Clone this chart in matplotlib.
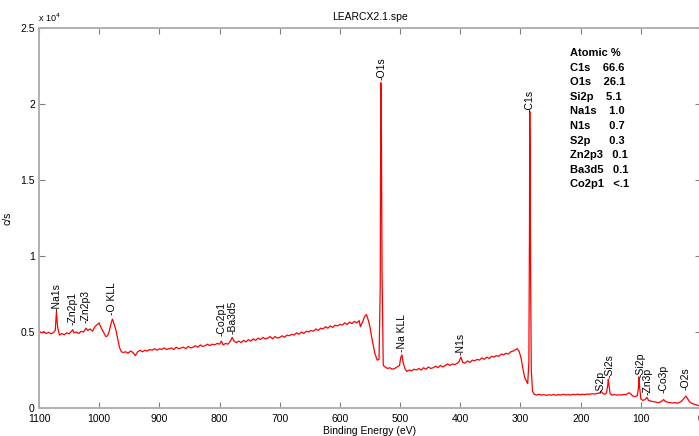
import matplotlib
matplotlib.use("Agg")
import matplotlib.pyplot as plt

plt.rcParams['font.family'] = ['Liberation Sans', 'DejaVu Sans']

# Spectrum (binding energy in eV, counts per second)
energy = [1100, 1096, 1092, 1088, 1084, 1080, 1076, 1073, 1071, 1069, 1066, 1062, 1058, 1054, 1050,
          1046, 1044, 1042, 1038, 1034, 1030, 1026, 1022, 1019, 1015, 1011, 1007, 1003, 1000, 997,
          993, 989, 986, 983, 980, 978, 975, 972, 969, 966, 963, 960, 956, 952, 948, 944, 940, 936,
          932, 928, 924, 920, 916, 912, 908, 904, 900, 896, 892, 888, 884, 880, 876, 872, 868, 864,
          860, 856, 852, 848, 844, 840, 836, 832, 828, 824, 820, 816, 812, 808, 804, 800, 797, 794,
          790, 786, 782, 779, 776, 772, 768, 764, 760, 756, 752, 748, 744, 740, 736, 732, 728, 724,
          720, 716, 712, 708, 704, 700, 696, 692, 688, 684, 680, 676, 672, 668, 664, 660, 656, 652,
          648, 644, 640, 636, 632, 628, 624, 620, 616, 612, 608, 604, 600, 596, 592, 588, 584, 580,
          576, 572, 568, 566, 562, 559, 556, 553, 550, 546, 542, 538, 535, 533, 532, 531, 530, 528,
          525, 521, 517, 513, 509, 505, 501, 499, 497, 495, 492, 489, 485, 481, 477, 473, 469, 465,
          461, 457, 453, 449, 445, 441, 437, 433, 429, 425, 421, 417, 413, 409, 405, 402, 399, 396,
          392, 388, 384, 380, 376, 372, 368, 364, 360, 356, 352, 348, 344, 340, 336, 332, 328, 324,
          320, 316, 312, 308, 305, 302, 299, 296, 293, 290, 288, 286, 285, 284.5, 284, 283, 282, 280,
          277, 273, 269, 265, 261, 257, 253, 249, 245, 241, 237, 233, 229, 225, 221, 217, 213, 209,
          205, 201, 197, 193, 189, 185, 181, 177, 173, 169, 166, 163, 160, 157, 155, 154, 153, 151,
          148, 144, 140, 136, 132, 128, 124, 120, 117, 114, 110, 106, 104, 103, 102, 100, 97, 93,
          90, 87, 83, 79, 75, 71, 67, 64, 62, 59, 55, 51, 47, 43, 39, 35, 31, 28, 25, 22, 19, 15,
          11, 7, 3, 0]
counts = [5050, 4950, 5020, 4900, 4980, 4880, 4960, 5100, 6350, 5300, 4800, 4900, 4820, 4950, 4880,
          5050, 5150, 4950, 5000, 4900, 5050, 5000, 5250, 5100, 5200, 5050, 5350, 5500, 5600, 5300,
          5000, 4700, 4750, 5100, 5600, 5850, 5500, 5100, 4500, 3950, 3700, 3650, 3700, 3600, 3750,
          3650, 3450, 3700, 3800, 3700, 3800, 3750, 3850, 3800, 3900, 3800, 3900, 3850, 3950, 3850,
          3900, 3950, 3850, 4000, 3900, 3950, 4000, 3900, 4050, 3950, 4000, 4100, 4000, 4150, 4050,
          4100, 4200, 4100, 4200, 4150, 4250, 4200, 4400, 4150, 4250, 4200, 4400, 4650, 4400, 4300,
          4400, 4300, 4450, 4350, 4500, 4400, 4550, 4450, 4600, 4500, 4650, 4550, 4600, 4700, 4550,
          4700, 4600, 4650, 4750, 4650, 4800, 4750, 4850, 4800, 4950, 4850, 5000, 4900, 5050, 5000,
          5100, 5050, 5200, 5100, 5250, 5200, 5350, 5250, 5400, 5300, 5450, 5400, 5500, 5450, 5600,
          5500, 5650, 5550, 5700, 5600, 5750, 5350, 5700, 6000, 6150, 5800, 5300, 4400, 3600, 3150,
          3200, 8000, 21400, 18000, 9000, 2800, 2700, 2600, 2650, 2550, 2600, 2700, 2800, 3300, 3500,
          3000, 2600, 2400, 2500, 2450, 2550, 2500, 2600, 2500, 2650, 2550, 2700, 2600, 2650, 2750,
          2650, 2800, 2700, 2800, 2900, 2800, 2900, 2850, 2950, 3050, 3350, 3000, 2950, 3100, 3000,
          3150, 3100, 3200, 3150, 3300, 3200, 3350, 3250, 3400, 3350, 3450, 3400, 3550, 3500, 3600,
          3550, 3700, 3750, 3850, 3900, 3700, 3300, 2600, 2000, 1750, 1600, 3000, 12000, 19500, 17000,
          8000, 2500, 1100, 900, 850, 900, 850, 880, 830, 870, 850, 890, 840, 880, 850, 900, 860,
          890, 850, 900, 870, 910, 870, 900, 880, 920, 900, 940, 920, 960, 980, 1100, 950, 900,
          1000, 1500, 1900, 1500, 950, 850, 880, 850, 870, 850, 900, 880, 1000, 950, 800, 750, 800,
          1300, 2050, 1400, 600, 500, 550, 700, 500, 450, 420, 380, 350, 400, 500, 550, 420, 380,
          350, 330, 350, 320, 380, 500, 650, 780, 600, 400, 300, 250, 200, 150, 100]

# Peak labels: text, energy position, label base (counts)
peak_names = ['-Na1s', '-Zn2p1', '-Zn2p3', '-O KLL', '-Co2p1', '-Ba3d5', '-O1s', '-Na KLL',
              '-N1s', '-C1s', '-S2p', '-Si2s', '-Si2p', '-Zn3p', '-Co3p', '-O2s']
peak_pos = [1071, 1045, 1022, 978, 797, 779, 531.5, 497, 399, 284.5, 167, 152, 101, 89, 63, 25]
peak_base = [6400, 5450, 5600, 6100, 4730, 4870, 21550, 3700, 3500, 19500, 1000, 1970, 2060,
             850, 1000, 1200]

# Atomic % table
comp_names = ['C1s', 'O1s', 'Si2p', 'Na1s', 'N1s', 'S2p', 'Zn2p3', 'Ba3d5', 'Co2p1']
comp_values = ['66.6', '26.1', '5.1', '1.0', '0.7', '0.3', '0.1', '0.1', '<.1']
comp_gaps = ['    ', '    ', '    ', '    ', '      ', '      ', '   ', '   ', '   ']

xticks = [1100, 1000, 900, 800, 700, 600, 500, 400, 300, 200, 100, 0]
yticks = [0, 5000, 10000, 15000, 20000, 25000]
ytick_labels = ['0', '0.5', '1', '1.5', '2', '2.5']

W, H = 699, 436
fig = plt.figure(figsize=(W / 100, H / 100), dpi=100)
ax = fig.add_axes([39 / W, (H - 408) / H, (701 - 39) / W, (408 - 28) / H])

ax.plot(energy, counts, color='#ff0000', linewidth=0.9)

ax.set_xlim(1100, 0)
ax.set_ylim(0, 25000)
ax.set_xticks(xticks)
ax.set_xticklabels([str(t) for t in xticks])
ax.set_yticks(yticks)
ax.set_yticklabels(ytick_labels)
ax.tick_params(direction='in', top=True, right=True, length=4, width=0.8,
               color='#808080', labelsize=7.5, pad=3)
ax.tick_params(axis='x', pad=4)
for s in ax.spines.values():
    s.set_color('#b0b0b0')
    s.set_linewidth(1.4)

ax.set_title('LEARCX2.1.spe', fontsize=7.5, pad=6)
ax.set_xlabel('Binding Energy (eV)', fontsize=7.5, labelpad=2)
ax.set_ylabel('c/s', fontsize=7.5, labelpad=6)
fig.text(38 / W, 1 - 18 / H, r'x 10$^4$', fontsize=6.5, va='center', ha='left')

for name, xp, yb in zip(peak_names, peak_pos, peak_base):
    ax.text(xp, yb, name, rotation=90, ha='center', va='bottom', fontsize=7.5)

x0 = (570 - 39) / 662
y0 = (408 - 53) / 380
dy = 14.6 / 380
ax.text(x0, y0, 'Atomic %', transform=ax.transAxes, fontsize=8, fontweight='bold',
        ha='left', va='center')
for i, (n, g, v) in enumerate(zip(comp_names, comp_gaps, comp_values)):
    ax.text(x0, y0 - (i + 1) * dy, n + g + v, transform=ax.transAxes, fontsize=8,
            fontweight='bold', ha='left', va='center')

fig.savefig('out.png', dpi=100)
